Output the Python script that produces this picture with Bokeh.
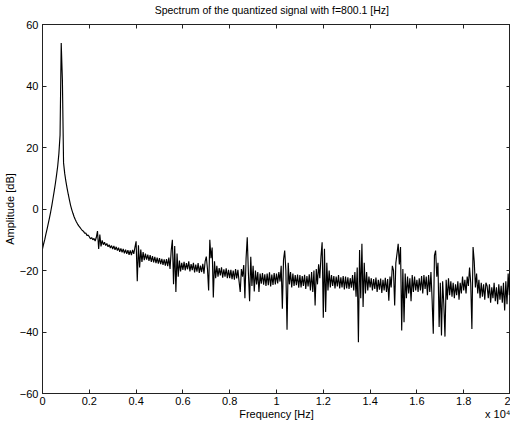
from bokeh.plotting import figure
from bokeh.models import Range1d, LinearAxis, FixedTicker, CustomJSTickFormatter
from bokeh.embed import file_html
from bokeh.resources import INLINE

TITLE = "Spectrum of the quantized signal with f=800.1 [Hz]"
X_LABEL = "Frequency [Hz]"
X_EXP_LABEL = "x 10\u2074"
Y_LABEL = "Amplitude [dB]"
X_TICKS = [0, 0.2, 0.4, 0.6, 0.8, 1, 1.2, 1.4, 1.6, 1.8, 2]   # x 10^4 Hz
Y_TICKS = [-60, -40, -20, 0, 20, 40, 60]
FREQ_STEP_HZ = 50  # spacing of the spectrum bins

# amplitude in dB, one value per 50 Hz bin (rows of 1000 Hz)
amplitude_db = [
    -13.0, -11.3, -9.8, -8.0, -6.4, -4.6, -2.8, -0.9, 1.2, 3.5, 5.8, 8.3, 11.0, 14.0, 18.0, 24.0, 54.0, 42.0, 15.0, 11.5,
    9.0, 6.8, 4.8, 3.0, 1.2, -0.2, -1.4, -2.5, -3.4, -4.2, -4.9, -5.5, -6.0, -6.5, -7.0, -7.2, -7.9, -7.8, -8.6, -8.5,
    -9.0, -9.7, -9.3, -10.0, -9.6, -10.4, -9.2, -7.2, -13.0, -8.3, -12.2, -10.2, -11.6, -10.8, -11.9, -11.2, -12.3, -11.6, -12.7, -11.9,
    -13.0, -12.0, -13.3, -12.3, -13.5, -12.6, -13.9, -12.8, -14.1, -13.0, -14.4, -13.2, -14.6, -13.4, -14.9, -13.5, -15.0, -13.3, -14.6, -12.5,
    -10.5, -23.5, -11.8, -19.0, -13.2, -17.2, -14.0, -16.6, -14.5, -16.5, -14.8, -16.9, -15.0, -17.2, -15.3, -17.4, -15.6, -17.6, -15.8, -17.8,
    -16.0, -17.9, -16.2, -18.2, -16.4, -18.4, -16.3, -18.6, -15.8, -19.5, -13.5, -10.0, -24.5, -12.0, -27.0, -14.5, -22.0, -16.8, -20.3, -17.5,
    -19.8, -17.2, -20.0, -17.6, -19.6, -17.0, -20.3, -17.9, -19.9, -17.5, -20.6, -18.1, -20.4, -17.6, -20.8, -18.4, -20.5, -17.8, -21.0, -17.0,
    -15.5, -19.5, -26.5, -10.0, -16.0, -12.5, -28.8, -17.0, -22.5, -18.5, -22.0, -19.2, -21.6, -19.0, -22.3, -19.6, -22.0, -19.3, -22.5, -19.8,
    -22.5, -19.8, -22.8, -20.0, -23.0, -19.5, -22.6, -19.8, -23.5, -27.0, -19.5, -22.0, -18.2, -29.0, -16.0, -9.2, -21.0, -30.0, -15.5, -25.0,
    -18.5, -26.8, -20.0, -24.5, -20.5, -27.0, -21.0, -24.3, -20.8, -24.6, -21.2, -25.0, -21.0, -24.8, -20.6, -25.2, -21.3, -24.7, -20.8, -24.5,
    -21.0, -24.2, -20.5, -23.6, -18.5, -32.4, -16.5, -13.5, -20.0, -39.3, -17.5, -24.5, -20.5, -25.5, -21.0, -25.0, -21.5, -24.8, -21.3, -25.6,
    -21.5, -25.5, -21.8, -25.0, -21.4, -26.0, -21.8, -25.2, -21.2, -26.5, -20.5, -27.0, -20.0, -31.4, -19.5, -24.5, -18.0, -22.5, -15.5, -10.8,
    -35.4, -12.9, -33.5, -17.5, -26.5, -20.0, -25.5, -21.5, -25.0, -21.8, -25.8, -22.0, -25.2, -21.5, -25.8, -22.2, -25.5, -21.8, -26.2, -22.0,
    -25.8, -22.2, -26.0, -22.5, -25.6, -21.5, -26.5, -20.5, -28.5, -19.0, -43.3, -13.3, -29.0, -11.3, -31.9, -17.5, -27.5, -20.5, -26.5, -22.0,
    -25.5, -22.5, -26.5, -22.8, -26.0, -22.3, -27.0, -23.0, -26.2, -22.6, -27.3, -23.0, -26.5, -22.4, -27.0, -22.8, -29.8, -22.0, -25.5, -18.5,
    -20.0, -31.4, -17.5, -14.5, -11.3, -18.0, -12.4, -39.5, -19.5, -36.8, -21.0, -29.0, -22.0, -27.5, -22.5, -30.0, -21.5, -27.0, -22.0, -26.5,
    -23.0, -27.0, -22.5, -26.5, -21.8, -27.5, -21.5, -26.0, -22.0, -28.0, -21.5, -27.0, -20.5, -29.5, -40.6, -15.1, -13.5, -22.0, -17.5, -38.4,
    -24.0, -41.1, -23.5, -31.0, -41.5, -23.0, -29.5, -22.5, -28.0, -23.5, -28.5, -24.0, -29.0, -24.5, -28.0, -23.5, -29.5, -24.0, -27.5, -22.0,
    -26.5, -23.0, -27.5, -22.0, -25.0, -19.0, -24.0, -39.0, -12.4, -17.0, -25.5, -21.0, -27.5, -23.0, -29.0, -24.0, -28.5, -24.5, -29.5, -24.0,
    -25.0, -29.0, -24.5, -30.5, -25.5, -29.0, -24.0, -30.0, -25.5, -31.0, -24.5, -29.5, -25.0, -30.5, -24.0, -33.0, -23.5, -31.0, -21.0, -28.0,
    -17.0,
]

freq_hz = [i * FREQ_STEP_HZ for i in range(len(amplitude_db))]
freq_1e4 = [f / 1e4 for f in freq_hz]

FONT = "Liberation Sans"
AX_COLOR = "#222222"

p = figure(width=510, height=428, output_backend="svg", toolbar_location=None,
           x_range=Range1d(0, 2), y_range=Range1d(-60, 60),
           min_border_left=0, min_border_right=0, min_border_top=0, min_border_bottom=35)
p.background_fill_color = "white"
p.border_fill_color = "white"
p.outline_line_color = AX_COLOR
p.grid.visible = False

p.line(freq_1e4, amplitude_db, line_color="black", line_width=1.15)

fmt = CustomJSTickFormatter(code="return String(Math.round(tick*10)/10);")

def style(ax, ticks, show_labels):
    ax.ticker = FixedTicker(ticks=ticks)
    ax.axis_line_color = AX_COLOR
    ax.major_tick_line_color = AX_COLOR
    ax.major_tick_in = 4
    ax.major_tick_out = 0
    ax.minor_tick_line_color = None
    ax.major_label_text_font = FONT
    ax.axis_label_standoff = 0
    if show_labels:
        ax.major_label_text_color = "black"
        ax.major_label_text_font_size = "11px"
        ax.major_label_standoff = 4
        ax.axis_label_text_font = FONT
        ax.axis_label_text_font_size = "11px"
        ax.axis_label_text_font_style = "normal"
        ax.axis_label_text_color = "black"
        ax.axis_label_standoff = 1
    else:
        ax.major_label_text_color = None
        ax.major_label_text_font_size = "1px"
        ax.major_label_standoff = 0

def text_row(positions, texts, size, standoff):
    ax = LinearAxis(ticker=FixedTicker(ticks=positions),
                    formatter=CustomJSTickFormatter(
                        args=dict(pos=positions, txt=texts),
                        code="let k = 0; let d = 1e9;"
                             " for (let i = 0; i < pos.length; i++) {"
                             "   const e = Math.abs(pos[i] - tick); if (e < d) { d = e; k = i; } }"
                             " return txt[k];"))
    ax.axis_line_color = None
    ax.major_tick_line_color = None
    ax.minor_tick_line_color = None
    ax.major_tick_in = 0
    ax.major_tick_out = 0
    ax.major_label_standoff = standoff
    ax.axis_label_standoff = 0
    ax.major_label_text_font = FONT
    ax.major_label_text_font_size = size
    ax.major_label_text_color = "black"
    return ax

xa = p.xaxis[0]
style(xa, X_TICKS, True)
xa.formatter = fmt
xa.major_label_standoff = 3
xa.axis_label_standoff = 0

ya = p.yaxis[0]
style(ya, Y_TICKS, True)
ya.axis_label = Y_LABEL

# second row below the ticks: axis title and the x 10^4 multiplier
p.add_layout(text_row([1.0, 1.965], [X_LABEL, X_EXP_LABEL], "11px", 0), "below")

top = LinearAxis()
style(top, X_TICKS, False)
p.add_layout(top, "above")
# chart title, in a row above the frame
p.add_layout(text_row([0.98], [TITLE], "10.5px", 9), "above")

right = LinearAxis()
style(right, Y_TICKS, False)
p.add_layout(right, "right")

open("out.html", "w").write(file_html(p, INLINE))
